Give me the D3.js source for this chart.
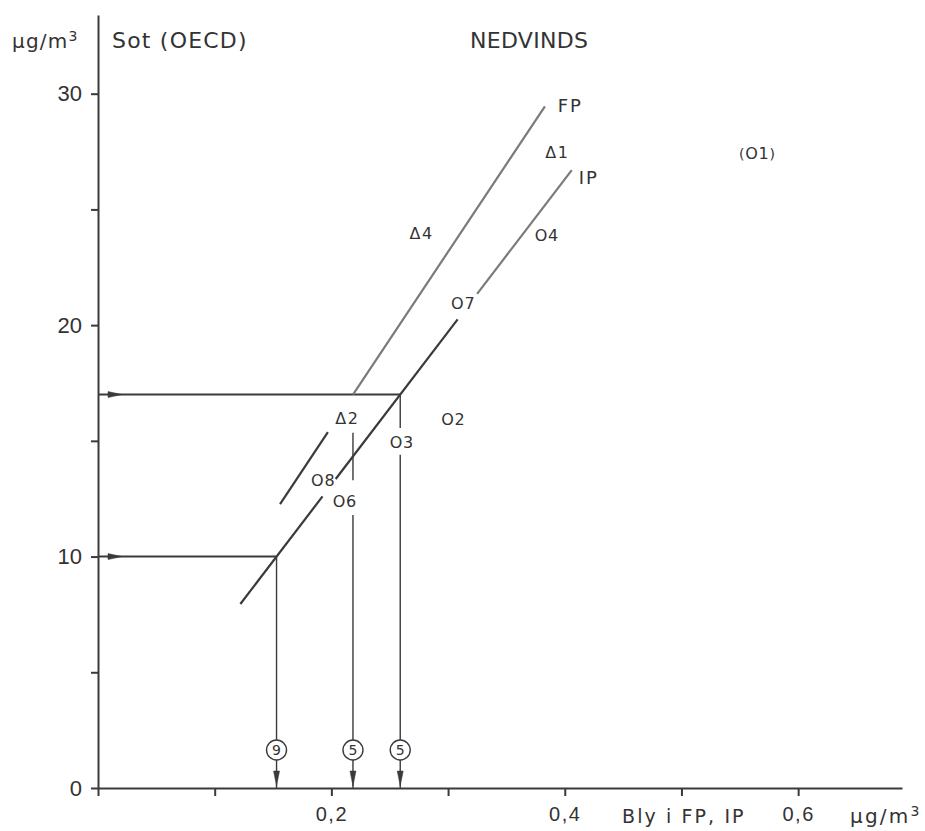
<!DOCTYPE html>
<html>
<head>
<meta charset="utf-8">
<script src="https://cdn.jsdelivr.net/npm/d3@7"></script>
<style>
  body { margin: 0; background: #fff; }
  svg { display: block; font-family: 'DejaVu Sans', sans-serif; }
  .axis path, .axis line { stroke: #3a3a3a; stroke-width: 2; }
  .axis text { fill: #333; }
</style>
</head>
<body>
<div class="chart"></div>
<script>
// values (x: Bly i FP, IP µg/m3 ; y: Sot µg/m3)
const xTicks = [0, 0.1, 0.2, 0.3, 0.4, 0.5, 0.6];
const xTickLabels = ['', '', '0,2', '', '0,4', '', '0,6'];
const yTicks = [0, 5, 10, 15, 20, 25, 30];
const yTickLabels = ['0', '', '10', '', '20', '', '30'];

// regression lines, drawn as broken segments [[x,y],[x,y]]
const fpSegments = [
  [[0.156, 12.27], [0.197, 15.38]],
  [[0.2185, 17], [0.383, 29.45]],
];
const ipSegments = [
  [[0.122, 7.95], [0.1924, 12.6]],
  [[0.2037, 13.35], [0.3082, 20.25]],
  [[0.3249, 21.35], [0.406, 26.7]],
];

// triangles = FP, circles = IP
const fpPoints = [
  { id: '1', x: 0.388, y: 27.48 },
  { id: '4', x: 0.2716, y: 23.98 },
  { id: '2', x: 0.208, y: 15.99 },
];
const ipPoints = [
  { id: '4', x: 0.3796, y: 23.9 },
  { id: '7', x: 0.308, y: 20.96 },
  { id: '2', x: 0.2995, y: 15.95 },
  { id: '3', x: 0.2554, y: 14.95 },
  { id: '8', x: 0.188, y: 13.31 },
  { id: '6', x: 0.2065, y: 12.4 },
];
const outlierPoints = [{ id: '1', x: 0.56, y: 27.44 }];

// read-off guides: soot level -> lead level
const guideLevels = [17, 10];
const guideEnds = [0.259, 0.153];
const dropX = [0.153, 0.2185, 0.259];
const dropTop = [10, 15.35, 17];
const dropGaps = [[], [[11.8, 13.3]], [[14.4, 15.55]]];
const dropLabels = ['9', '5', '5'];
const dropLabelY = 1.64;

const width = 925;
const height = 831;

const svg = d3
  .select('div.chart')
  .append('svg')
  .attr('width', width)
  .attr('height', height);

const x = d3.scaleLinear().domain([0, 0.689]).range([98, 902]);
const y = d3.scaleLinear().domain([0, 33.4]).range([788, 15]);

// axes
const yAxis = svg
  .append('g')
  .attr('class', 'axis')
  .attr('transform', `translate(${x(0)},0)`)
  .call(
    d3
      .axisLeft(y)
      .tickValues(yTicks)
      .tickSize(7)
      .tickSizeOuter(0)
      .tickPadding(9)
      .tickFormat((d, i) => yTickLabels[i])
  );
yAxis.selectAll('text').style('font-size', '22px');

const xAxis = svg
  .append('g')
  .attr('class', 'axis')
  .attr('transform', `translate(0,${y(0)})`)
  .call(
    d3
      .axisBottom(x)
      .tickValues(xTicks)
      .tickSize(8)
      .tickSizeOuter(0)
      .tickPadding(11)
      .tickFormat((d, i) => xTickLabels[i])
  );
xAxis
  .selectAll('text')
  .style('font-size', '20px')
  .style('letter-spacing', '1.5px');

// axis titles
const title = (tx, ty, str, size, spacing, anchor) =>
  svg
    .append('text')
    .attr('x', tx)
    .attr('y', ty)
    .attr('fill', '#333')
    .attr('text-anchor', anchor || 'start')
    .style('font-size', size + 'px')
    .style('letter-spacing', spacing + 'px')
    .text(str);

const unit = (tx, ty, size, spacing) => {
  const t = title(tx, ty, 'µg/m', size, spacing);
  t.append('tspan')
    .attr('dy', -size * 0.35)
    .style('font-size', size * 0.7 + 'px')
    .text('3');
  return t;
};

unit(12, 48, 20, 1.2);
title(112, 48, 'Sot (OECD)', 22, 1.2);
title(470, 48, 'NEDVINDS', 22, 0.3);
title(622, 823, 'Bly i FP, IP', 19, 2.1);
unit(850, 823, 20, 2.2);

// guide lines with arrows
const lineGen = d3
  .line()
  .x((d) => x(d[0]))
  .y((d) => y(d[1]));

const guides = svg.append('g').attr('stroke', '#3a3a3a').attr('fill', '#3a3a3a');

guideLevels.forEach((level, i) => {
  guides
    .append('path')
    .attr('d', lineGen([[0, level], [guideEnds[i], level]]))
    .attr('stroke-width', 2)
    .attr('fill', 'none');
  const ax = x(0) + 10;
  const ay = y(level);
  guides
    .append('path')
    .attr('d', `M${ax},${ay - 3}L${ax + 14},${ay}L${ax},${ay + 3}Z`)
    .attr('stroke-width', 0.5);
});

const r = 10;
dropX.forEach((dx, i) => {
  const cx = x(dx);
  const cy = y(dropLabelY);
  // upper part, cut where labels sit
  let top = dropTop[i];
  const pieces = [];
  dropGaps[i]
    .slice()
    .sort((a, b) => b[1] - a[1])
    .forEach((g) => {
      pieces.push([top, g[1]]);
      top = g[0];
    });
  pieces.push([top, null]);
  pieces.forEach((p) => {
    const y1 = y(p[0]);
    const y2 = p[1] === null ? cy - r : y(p[1]);
    guides
      .append('line')
      .attr('x1', cx)
      .attr('x2', cx)
      .attr('y1', y1)
      .attr('y2', y2)
      .attr('stroke-width', 1.4);
  });
  guides
    .append('line')
    .attr('x1', cx)
    .attr('x2', cx)
    .attr('y1', cy + r)
    .attr('y2', y(0))
    .attr('stroke-width', 1.4);
  guides
    .append('path')
    .attr('d', `M${cx - 3},${y(0) - 17}L${cx},${y(0) - 2}L${cx + 3},${y(0) - 17}Z`)
    .attr('stroke-width', 0.5);
  guides
    .append('circle')
    .attr('cx', cx)
    .attr('cy', cy)
    .attr('r', r)
    .attr('fill', 'none')
    .attr('stroke-width', 1.4);
  svg
    .append('text')
    .attr('x', cx)
    .attr('y', cy + 5)
    .attr('text-anchor', 'middle')
    .attr('fill', '#333')
    .style('font-size', '14px')
    .text(dropLabels[i]);
});

// FP and IP lines
const drawSegments = (segments, darkIndex) => {
  svg
    .append('g')
    .selectAll('path')
    .data(segments)
    .enter()
    .append('path')
    .attr('d', (d) => lineGen(d))
    .attr('fill', 'none')
    .attr('stroke', (d, i) => (darkIndex.includes(i) ? '#3a3a3a' : '#7a7a7a'))
    .attr('stroke-width', 2.2);
};
drawSegments(fpSegments, [0]);
drawSegments(ipSegments, [0, 1]);

title(x(0.394), y(29.2), 'FP', 18, 2);
title(x(0.412), y(26.1), 'IP', 18, 2);

// data points
const drawPoints = (points, symbol) => {
  const g = svg
    .append('g')
    .attr('fill', '#333')
    .style('font-size', '16px');
  points.forEach((p) => {
    const px = x(p.x);
    const py = y(p.y);
    g.append('text')
      .attr('x', px)
      .attr('y', py + 6)
      .attr('text-anchor', 'middle')
      .text(symbol);
    g.append('text')
      .attr('x', px + 7)
      .attr('y', py + 6)
      .text(p.id);
  });
  return g;
};

drawPoints(fpPoints, 'Δ');
drawPoints(ipPoints, 'O');
const og = drawPoints(outlierPoints, 'O');
outlierPoints.forEach((p) => {
  og.append('text')
    .attr('x', x(p.x) - 7)
    .attr('y', y(p.y) + 6)
    .attr('text-anchor', 'end')
    .style('font-size', '14px')
    .text('(');
  og.append('text')
    .attr('x', x(p.x) + 18)
    .attr('y', y(p.y) + 6)
    .style('font-size', '14px')
    .text(')');
});
</script>
</body>
</html>
